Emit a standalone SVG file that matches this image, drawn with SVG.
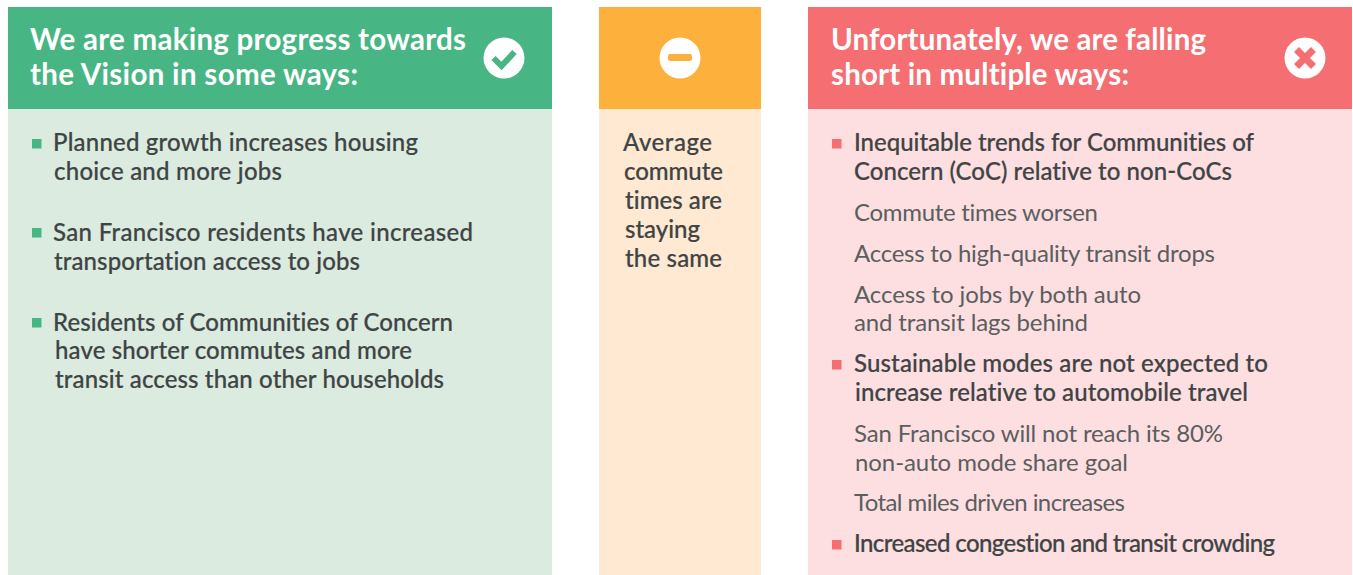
<svg xmlns="http://www.w3.org/2000/svg" width="1353" height="575" viewBox="0 0 1353 575">
<style>
text{font-family:"Lato","Open Sans","Liberation Sans",sans-serif;font-variant-ligatures:none}
.h{font-size:29.5px;font-weight:700;fill:#fff}
.b{font-size:24px;font-weight:500;fill:#3f4444;stroke:#3f4444;stroke-width:.2px}
.l{font-size:24px;font-weight:400;fill:#5a5e5e}
.g{fill:#48b584}.r{fill:#f56e72}
</style>
<rect width="1353" height="575" fill="#fff"/>
<g id="left">
<rect x="8" y="109" width="544" height="466" fill="#dbebe0"/>
<rect x="8" y="7" width="544" height="102" fill="#48b584"/>
<text class="h" x="30" y="49.500" textLength="436" lengthAdjust="spacing">We are making progress towards</text>
<text class="h" x="30" y="84.500" textLength="328" lengthAdjust="spacing">the Vision in some ways:</text>
<circle cx="504" cy="58" r="20.500" fill="#fff"/>
<path d="M493.500 58l8 8 13-14" fill="none" stroke="#48b584" stroke-width="6"/>
<rect class="g" x="32" y="139" width="9.500" height="9.500"/>
<text class="b" x="53" y="151" textLength="365" lengthAdjust="spacing">Planned growth increases housing</text>
<text class="b" x="54" y="180" textLength="228" lengthAdjust="spacing">choice and more jobs</text>
<rect class="g" x="32" y="228" width="9.500" height="9.500"/>
<text class="b" x="53" y="241" textLength="420" lengthAdjust="spacing">San Francisco residents have increased</text>
<text class="b" x="54" y="270" textLength="306" lengthAdjust="spacing">transportation access to jobs</text>
<rect class="g" x="32" y="318" width="9.500" height="9.500"/>
<text class="b" x="53" y="331" textLength="400" lengthAdjust="spacing">Residents of Communities of Concern</text>
<text class="b" x="55" y="359" textLength="357" lengthAdjust="spacing">have shorter commutes and more</text>
<text class="b" x="55" y="388" textLength="389" lengthAdjust="spacing">transit access than other households</text>
</g>
<g id="middle">
<rect x="599" y="109" width="162" height="466" fill="#ffe9d3"/>
<rect x="599" y="7" width="162" height="102" fill="#fdb03c"/>
<circle cx="680" cy="58" r="20.500" fill="#fff"/>
<rect x="668" y="54" width="24" height="7" rx="2" fill="#fdb03c"/>
<text class="b" x="623" y="151" textLength="89" lengthAdjust="spacing">Average</text>
<text class="b" x="624" y="180" textLength="99" lengthAdjust="spacing">commute</text>
<text class="b" x="625" y="209" textLength="97" lengthAdjust="spacing">times are</text>
<text class="b" x="625" y="238" textLength="75" lengthAdjust="spacing">staying</text>
<text class="b" x="625" y="267" textLength="97" lengthAdjust="spacing">the same</text>
</g>
<g id="right">
<rect x="808" y="109" width="544" height="466" fill="#fddfe1"/>
<rect x="808" y="7" width="544" height="102" fill="#f56e72"/>
<text class="h" x="831" y="49.500" textLength="375" lengthAdjust="spacing">Unfortunately, we are falling</text>
<text class="h" x="831" y="84.500" textLength="298" lengthAdjust="spacing">short in multiple ways:</text>
<circle cx="1305" cy="58" r="20.500" fill="#fff"/>
<path d="M1296.500 49.500l17 17M1313.500 49.500l-17 17" fill="none" stroke="#f56e72" stroke-width="7"/>
<rect class="r" x="832" y="139" width="9.500" height="9.500"/>
<text class="b" x="854" y="151" textLength="400" lengthAdjust="spacing">Inequitable trends for Communities of</text>
<text class="b" x="854" y="180" textLength="378" lengthAdjust="spacing">Concern (CoC) relative to non-CoCs</text>
<text class="l" x="854" y="221" textLength="244" lengthAdjust="spacing">Commute times worsen</text>
<text class="l" x="854" y="262" textLength="361" lengthAdjust="spacing">Access to high-quality transit drops</text>
<text class="l" x="854" y="303" textLength="287" lengthAdjust="spacing">Access to jobs by both auto</text>
<text class="l" x="854" y="331" textLength="234" lengthAdjust="spacing">and transit lags behind</text>
<rect class="r" x="832" y="360" width="9.500" height="9.500"/>
<text class="b" x="854" y="372" textLength="414" lengthAdjust="spacing">Sustainable modes are not expected to</text>
<text class="b" x="855" y="401" textLength="393" lengthAdjust="spacing">increase relative to automobile travel</text>
<text class="l" x="854" y="441.500" textLength="369" lengthAdjust="spacing">San Francisco will not reach its 80%</text>
<text class="l" x="855" y="470.500" textLength="273" lengthAdjust="spacing">non-auto mode share goal</text>
<text class="l" x="854" y="511" textLength="271" lengthAdjust="spacing">Total miles driven increases</text>
<rect class="r" x="832" y="540" width="9.500" height="9.500"/>
<text class="b" x="854" y="552" textLength="421" lengthAdjust="spacing">Increased congestion and transit crowding</text>
</g>
</svg>
